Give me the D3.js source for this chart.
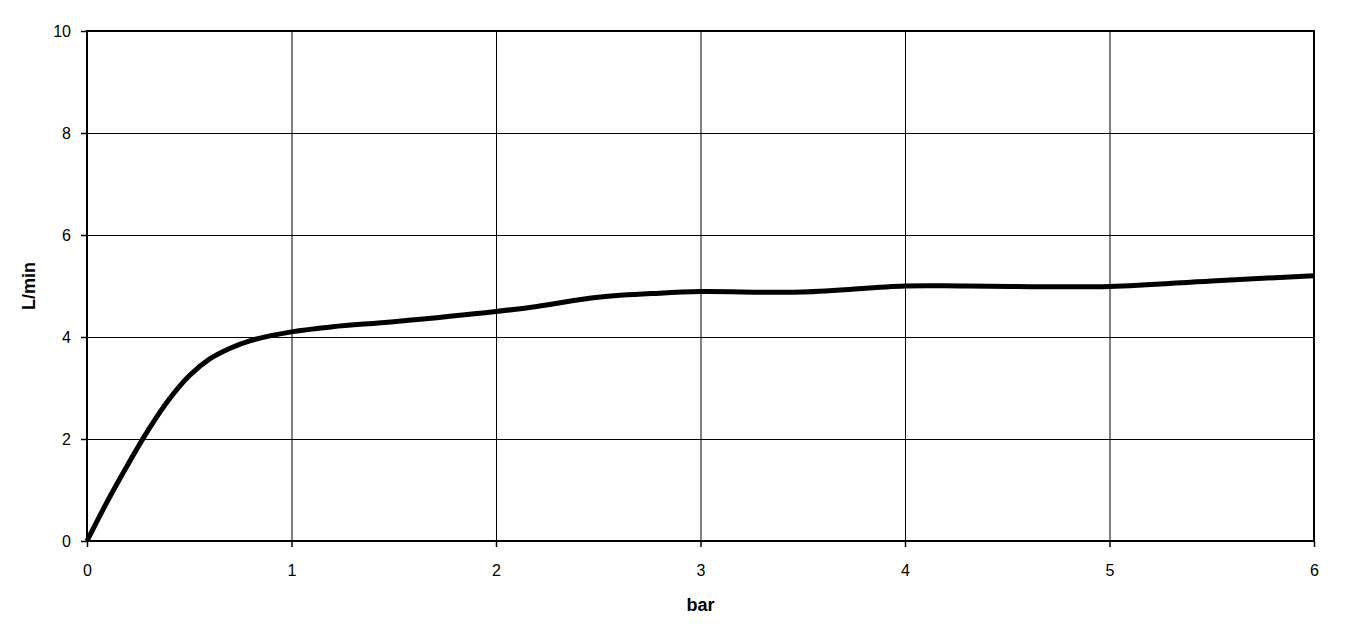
<!DOCTYPE html>
<html><head><meta charset="utf-8">
<script src="https://cdn.jsdelivr.net/npm/d3@7"></script>
<style>body{margin:0;background:#fff}svg{display:block}</style>
</head><body>
<svg id="c" width="1345" height="631"></svg>
<script>
const xValues = [0,0.1,0.2,0.3,0.4,0.5,0.6,0.7,0.8,1.0,1.2,1.5,2.0,2.2,2.5,2.8,3.0,3.5,4.0,4.3,5.0,5.5,6.0];
const yValues = [0,0.78,1.5,2.18,2.77,3.24,3.57,3.78,3.93,4.1,4.2,4.3,4.5,4.6,4.78,4.86,4.89,4.88,5.0,5.0,4.99,5.1,5.2];
const xTicks = [0,1,2,3,4,5,6];
const yTicks = [0,2,4,6,8,10];
const xTitle = "bar";
const yTitle = "L/min";

const m = {l:87, r:1314, t:31, b:541};
const svg = d3.select("#c");
const x = d3.scaleLinear().domain([0,6]).range([m.l, m.r]);
const y = d3.scaleLinear().domain([0,10]).range([m.b, m.t]);
const font = "'Liberation Sans', Arial, sans-serif";

// gridlines
svg.append("g").selectAll("line").data(xTicks.slice(1,-1)).join("line")
  .attr("x1",d=>x(d)+0.5).attr("x2",d=>x(d)+0.5).attr("y1",m.t).attr("y2",m.b)
  .attr("stroke","#000").attr("stroke-width",1);
svg.append("g").selectAll("line").data(yTicks.slice(1,-1)).join("line")
  .attr("y1",d=>y(d)+0.5).attr("y2",d=>y(d)+0.5).attr("x1",m.l).attr("x2",m.r)
  .attr("stroke","#000").attr("stroke-width",1);

// border
svg.append("rect").attr("x",m.l).attr("y",m.t).attr("width",m.r-m.l).attr("height",m.b-m.t)
  .attr("fill","none").attr("stroke","#000").attr("stroke-width",2);

// axes
const xAxis = svg.append("g").attr("transform",`translate(0,${m.b})`)
  .call(d3.axisBottom(x).tickValues(xTicks).tickFormat(d3.format("d")).tickSize(6).tickSizeOuter(0).tickPadding(18));
const yAxis = svg.append("g").attr("transform",`translate(${m.l},0)`)
  .call(d3.axisLeft(y).tickValues(yTicks).tickFormat(d3.format("d")).tickSize(6).tickSizeOuter(0).tickPadding(10));
[xAxis,yAxis].forEach(a=>{
  a.select(".domain").remove();
  a.selectAll(".tick line").attr("stroke","#000").attr("stroke-width",1.5);
  a.selectAll("text").attr("font-family",font).attr("font-size",16).attr("fill","#000");
});

// line
const pts = xValues.map((v,i)=>[v,yValues[i]]);
svg.append("path").datum(pts)
  .attr("d", d3.line().x(d=>x(d[0])).y(d=>y(d[1])).curve(d3.curveCatmullRom.alpha(0.5)))
  .attr("fill","none").attr("stroke","#000").attr("stroke-width",5).attr("stroke-linejoin","round");

// titles
svg.append("text").attr("x",(m.l+m.r)/2).attr("y",611).attr("text-anchor","middle")
  .attr("font-family",font).attr("font-weight","bold").attr("font-size",18).text(xTitle);
svg.append("text").attr("transform",`translate(35,${(m.t+m.b)/2}) rotate(-90)`).attr("text-anchor","middle")
  .attr("font-family",font).attr("font-weight","bold").attr("font-size",18).text(yTitle);
</script>
</body></html>
